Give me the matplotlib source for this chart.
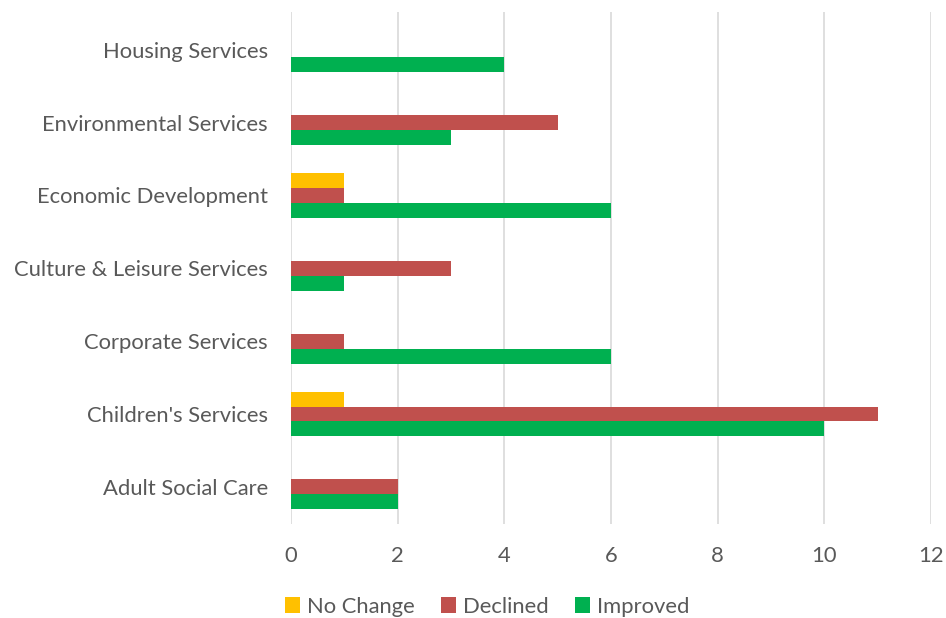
import numpy as np
import matplotlib.pyplot as plt

plt.rcParams['font.family'] = ['Lato', 'DejaVu Sans']

categories = ['Adult Social Care', "Children's Services", 'Corporate Services',
              'Culture & Leisure Services', 'Economic Development',
              'Environmental Services', 'Housing Services']
no_change = [0, 1, 0, 0, 1, 0, 0]
declined = [2, 11, 1, 3, 1, 5, 0]
improved = [2, 10, 6, 1, 6, 3, 4]

TXT = '#595959'
h = 0.205
y = np.arange(len(categories))

fig = plt.figure(figsize=(9.46, 6.18), dpi=100)
ax = fig.add_axes([0.3076, 0.152, 0.6765, 0.829])

ax.barh(y + h, no_change, height=h, color='#FFC000', label='No Change')
ax.barh(y, declined, height=h, color='#C0504D', label='Declined')
ax.barh(y - h, improved, height=h, color='#00B050', label='Improved')

ax.set_xlim(0, 12)
ax.set_ylim(-0.51, 6.52)
ax.set_xticks(np.arange(0, 13, 2))
ax.set_yticks(y)
ax.set_yticklabels(categories)
ax.xaxis.grid(True, color='#D9D9D9', linewidth=1.2)
ax.set_axisbelow(True)
for s in ax.spines.values():
    s.set_visible(False)
ax.tick_params(axis='both', length=0, labelsize=15.8, colors=TXT)
ax.tick_params(axis='x', pad=16)
ax.tick_params(axis='y', pad=16.5)

leg = fig.legend(loc='lower center', bbox_to_anchor=(0.515, -0.03), ncol=3,
                 frameon=False, fontsize=15.8, handlelength=0.7, handleheight=0.7,
                 handletextpad=0.3, columnspacing=1.2)
for t in leg.get_texts():
    t.set_color(TXT)

fig.savefig('out.png', dpi=100)
